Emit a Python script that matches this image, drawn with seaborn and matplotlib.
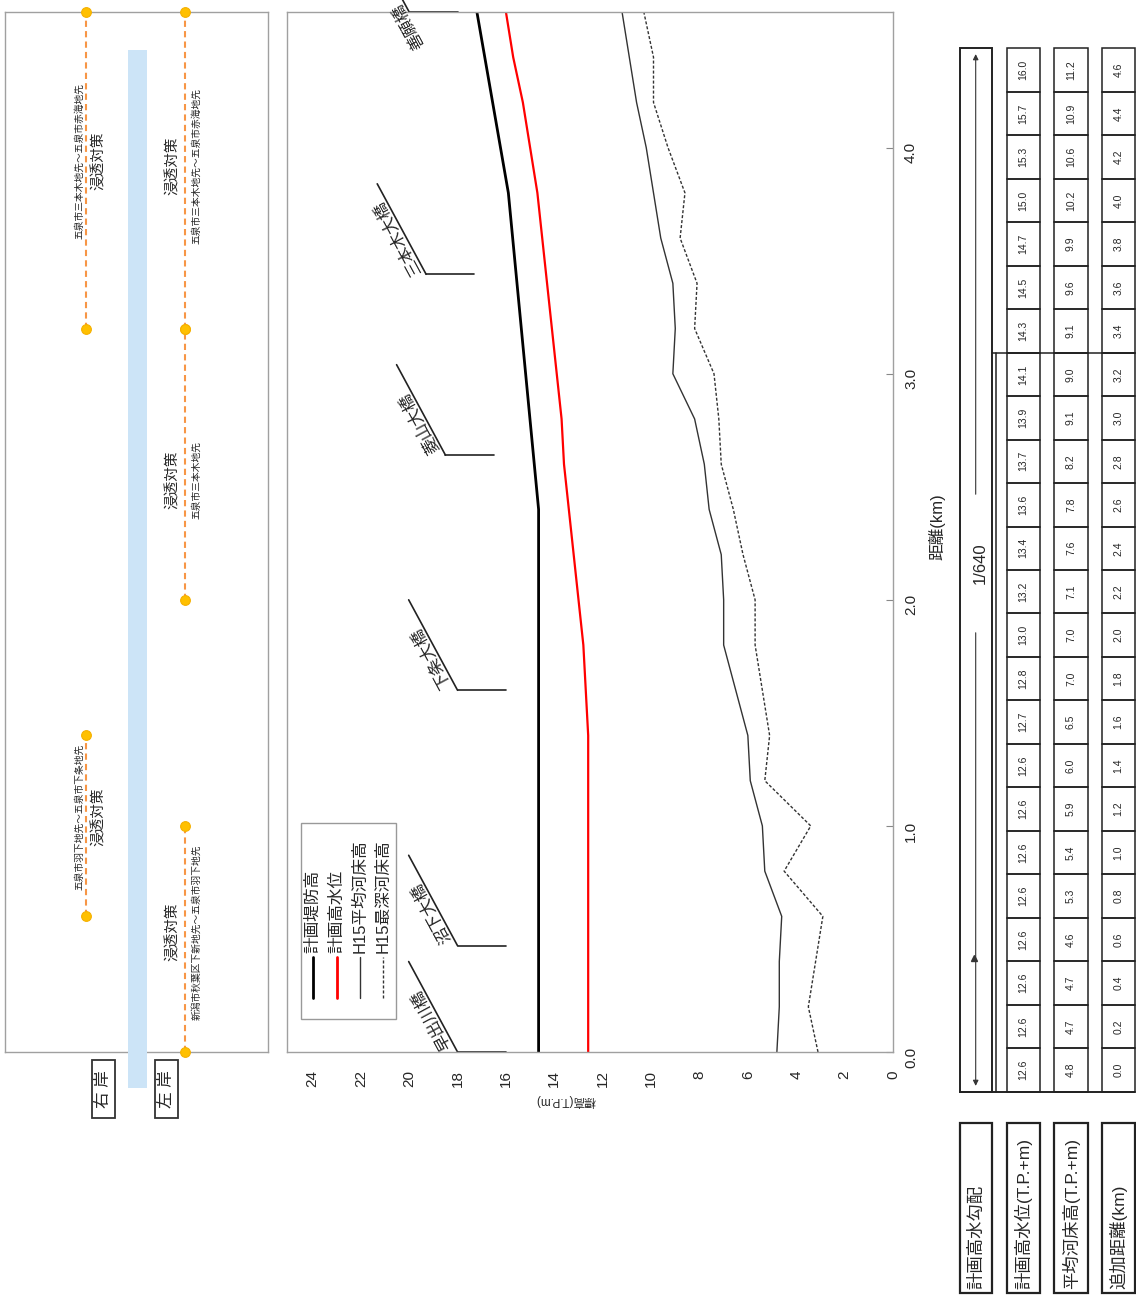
import matplotlib
matplotlib.use('Agg')
import numpy as np
import pandas as pd
import matplotlib.pyplot as plt
import seaborn as sns
from matplotlib.patches import Rectangle

distance = [0.0, 0.2, 0.4, 0.6, 0.8, 1.0, 1.2, 1.4, 1.6, 1.8, 2.0, 2.2,
            2.4, 2.6, 2.8, 3.0, 3.2, 3.4, 3.6, 3.8, 4.0, 4.2, 4.4, 4.6]
hwl = [12.6, 12.6, 12.6, 12.6, 12.6, 12.6, 12.6, 12.6, 12.7, 12.8, 13.0, 13.2,
       13.4, 13.6, 13.7, 13.9, 14.1, 14.3, 14.5, 14.7, 15.0, 15.3, 15.7, 16.0]
bed_mean = [4.8, 4.7, 4.7, 4.6, 5.3, 5.4, 5.9, 6.0, 6.5, 7.0, 7.0, 7.1,
            7.6, 7.8, 8.2, 9.1, 9.0, 9.1, 9.6, 9.9, 10.2, 10.6, 10.9, 11.2]
bed_deep = [3.1, 3.5, 3.2, 2.9, 4.5, 3.4, 5.3, 5.1, 5.4, 5.7, 5.7, 6.2,
            6.6, 7.1, 7.2, 7.4, 8.2, 8.1, 8.8, 8.6, 9.3, 9.9, 9.9, 10.3]
levee_dist = [0.0, 2.4, 3.8, 4.6]
levee_elev = [14.65, 14.65, 15.9, 17.2]

series_names = ['計画堤防高', '計画高水位', 'H15平均河床高', 'H15最深河床高']

bridge_names = ['早出川橋', '沼下大橋', '下条大橋', '菱山大橋', '三本木大橋', '善願橋']
bridge_dist = [0.0, 0.47, 1.6, 2.64, 3.44, 4.6]
bridge_low = [16.0, 16.0, 16.0, 16.5, 17.3, 18.0]
bridge_high = [18.0, 18.0, 18.0, 18.5, 19.3, 20.0]
bridge_label_at = [0.08, 0.08, 0.08, 0.08, 0.05, -0.36]   # start of name along the leader

works_bank = ['右岸', '右岸', '左岸', '左岸', '左岸']
works_from = [3.2, 0.6, 3.2, 2.0, 0.0]
works_to = [4.6, 1.4, 4.6, 3.2, 1.0]
works_label_d = [3.94, 1.04, 3.92, 2.53, 0.53]
works_name = ['浸透対策'] * 5
works_place = ['五泉市三本木地先～五泉市赤海地先', '五泉市羽下地先～五泉市下条地先',
               '五泉市三本木地先～五泉市赤海地先', '五泉市三本木地先',
               '新潟市秋葉区下新地先～五泉市羽下地先']
river_from, river_to = -0.16, 4.43

gradient_label = '1/640'
row_headers = ['計画高水勾配', '計画高水位(T.P.+m)', '平均河床高(T.P.+m)', '追加距離(km)']

# --- style ---------------------------------------------------------------
sns.set_style('white')
plt.rcParams['font.family'] = ['Liberation Sans', 'Noto Sans CJK JP']
W, H = 1136, 1295
fig = plt.figure(figsize=(W / 100, H / 100), dpi=100)

# pixel canvas for the table and the bank tags
cv = fig.add_axes([0, 0, 1, 1])
cv.set_xlim(0, W)
cv.set_ylim(H, 0)
cv.axis('off')

# --- main profile (rotated: elevation runs right->left, distance upward) ---
ax = fig.add_axes([287 / W, 1 - 1052 / H, 606 / W, 1040 / H])
sns.lineplot(x=levee_elev, y=levee_dist, sort=False, estimator=None, ax=ax,
             color='black', linewidth=2.0)
sns.lineplot(x=hwl, y=distance, sort=False, estimator=None, ax=ax,
             color='#ff0000', linewidth=1.6)
sns.lineplot(x=bed_mean, y=distance, sort=False, estimator=None, ax=ax,
             color='#333333', linewidth=1.0)
sns.lineplot(x=bed_deep, y=distance, sort=False, estimator=None, ax=ax,
             color='#333333', linewidth=1.0)
ax.lines[-1].set_dashes([2.2, 1.4])

ax.set_xlim(25.05, 0)
ax.set_ylim(0, 4.6)
ax.set_xticks(np.arange(0, 25, 2))
ax.set_yticks(np.arange(0, 4.1, 1.0))
ax.set_yticklabels([f'{v:.1f}' for v in np.arange(0, 4.1, 1.0)])
ax.yaxis.tick_right()
ax.tick_params(axis='x', direction='in', length=4, width=0.8, color='#888888',
               labelrotation=90, labelsize=11, pad=13)
ax.tick_params(axis='y', direction='in', length=5, width=0.8, color='#888888',
               labelrotation=90, labelsize=11, pad=8)
for s in ax.spines.values():
    s.set_color('#a0a0a0')
    s.set_linewidth(1.0)
ax.set_xlabel('')
ax.set_ylabel('')
fig.text(566 / W, 1 - 1101 / H, '標高(T.P.m)', rotation=180, fontsize=8.5,
         ha='center', va='center')
fig.text(937 / W, 1 - 527 / H, '距離(km)', rotation=90, fontsize=12,
         ha='center', va='center')

# bridges
for name, d, lo, hi, t in zip(bridge_names, bridge_dist, bridge_low, bridge_high,
                              bridge_label_at):
    ax.plot([lo, hi], [d, d], color='#222222', lw=1.2, clip_on=False)
    ax.plot([hi, hi + 2.02], [d, d + 0.4], color='#222222', lw=1.2, clip_on=False)
    ax.text(hi + t * 2.02, d + t * 0.4, name, rotation=118.4, rotation_mode='anchor',
            ha='left', va='bottom', fontsize=12, clip_on=False)

# legend drawn by hand in the rotated frame
ax.add_patch(Rectangle((0.0231, 0.0317), 0.1568, 0.1888, transform=ax.transAxes,
                       facecolor='white', edgecolor='#999999', lw=1.0, zorder=5))
leg_x = [0.0429, 0.0825, 0.1205, 0.1584]
leg_style = [dict(color='black', lw=2.0), dict(color='#ff0000', lw=2.0),
             dict(color='#333333', lw=1.0), dict(color='#333333', lw=1.0, ls=(0, (2.2, 1.4)))]
for lx, name, st in zip(leg_x, series_names, leg_style):
    ax.plot([lx, lx], [0.052, 0.091], transform=ax.transAxes, zorder=6, **st)
    ax.text(lx, 0.095, name, transform=ax.transAxes, rotation=90,
            rotation_mode='anchor', ha='left', va='center', fontsize=12, zorder=6)

# --- left panel: countermeasure sections ---------------------------------
axl = fig.add_axes([5 / W, 1 - 1052 / H, 263 / W, 1040 / H])
axl.set_xlim(0, 1)
axl.set_ylim(0, 4.6)
axl.set_xticks([])
axl.set_yticks([])
for s in axl.spines.values():
    s.set_color('#a0a0a0')
    s.set_linewidth(1.0)
bank_x = {'右岸': 0.308, '左岸': 0.684}
axl.add_patch(Rectangle((0.467, river_from), 0.074, river_to - river_from,
                        facecolor='#cce4f7', edgecolor='none', clip_on=False, zorder=3))
for bank, a, b, ld, nm, place in zip(works_bank, works_from, works_to, works_label_d,
                                     works_name, works_place):
    x = bank_x[bank]
    axl.plot([x, x], [a, b], color='#f79646', lw=1.5, ls=(0, (3, 2)), zorder=4,
             clip_on=False)
    axl.plot([x, x], [a, b], ls='none', marker='o', ms=7, mfc='#ffc000',
             mec='#f5b000', mew=0.8, zorder=5, clip_on=False)
    if bank == '右岸':
        axl.text(x - 0.027, ld, place, rotation=90, fontsize=7, ha='center',
                 va='center', zorder=6)
        axl.text(x + 0.05, ld, nm, rotation=90, fontsize=10.5, ha='center',
                 va='center', zorder=6)
    else:
        axl.text(x - 0.045, ld, nm, rotation=90, fontsize=10.5, ha='center',
                 va='center', zorder=6)
        axl.text(x + 0.045, ld, place, rotation=90, fontsize=7, ha='center',
                 va='center', zorder=6)

# bank tags
for cx, tag in zip([103.5, 166.5], ['右 岸', '左 岸']):
    cv.add_patch(Rectangle((cx - 11.5, 1060), 23, 58, facecolor='white',
                           edgecolor='#333333', lw=1.3))
    cv.text(cx, 1089, tag, rotation=90, fontsize=12, ha='center', va='center')

# --- table on the right ---------------------------------------------------
top, bot = 48.3, 1091.7
n = len(distance)
h = (bot - top) / n
cols = [(959.5, 992.0), (1006.7, 1040.0), (1054.3, 1087.7), (1101.7, 1135.0)]
row_vals = [[f'{v:.1f}' for v in hwl], [f'{v:.1f}' for v in bed_mean],
            [f'{v:.1f}' for v in distance]]
for (x0, x1), vals in zip(cols[1:], row_vals):
    for i, v in enumerate(vals):
        yb = bot - i * h
        cv.add_patch(Rectangle((x0, yb - h), x1 - x0, h, facecolor='none',
                               edgecolor='#222222', lw=1.1))
        cv.text((x0 + x1) / 2, yb - h / 2, v, rotation=90, fontsize=7.5,
                ha='center', va='center')

# gradient column
x0, x1 = cols[0]
cv.add_patch(Rectangle((x0, top), x1 - x0, bot - top, facecolor='none',
                       edgecolor='#222222', lw=1.4))
xa = 975.7
cv.annotate('', xy=(xa, top + 3), xytext=(xa, 497), arrowprops=dict(
    arrowstyle='-|>', color='#333333', lw=0.8, mutation_scale=8))
cv.annotate('', xy=(xa, bot - 3), xytext=(xa, 630), arrowprops=dict(
    arrowstyle='-|>', color='#333333', lw=0.8, mutation_scale=8))
cv.plot([xa - 2], [958], marker='^', ms=4, color='#333333')
cv.text(980, 563, gradient_label, rotation=90, fontsize=12, ha='center', va='center')
ysplit = bot - 17 * h
cv.plot([995.7, 995.7], [ysplit, bot], color='#222222', lw=1.1)
cv.plot([992, 1135], [ysplit, ysplit], color='#222222', lw=1.1)
cv.plot([959.5, 1135], [bot, bot], color='#222222', lw=1.4)

# row headers
for (x0, x1), lab in zip(cols, row_headers):
    cv.add_patch(Rectangle((x0, 1123.3), x1 - x0, 1293 - 1123.3, facecolor='none',
                           edgecolor='#222222', lw=1.6))
    cv.text((x0 + x1) / 2, 1289, lab, rotation=90, rotation_mode='anchor',
            ha='left', va='center', fontsize=12.5)

fig.savefig('out.png', dpi=100)
